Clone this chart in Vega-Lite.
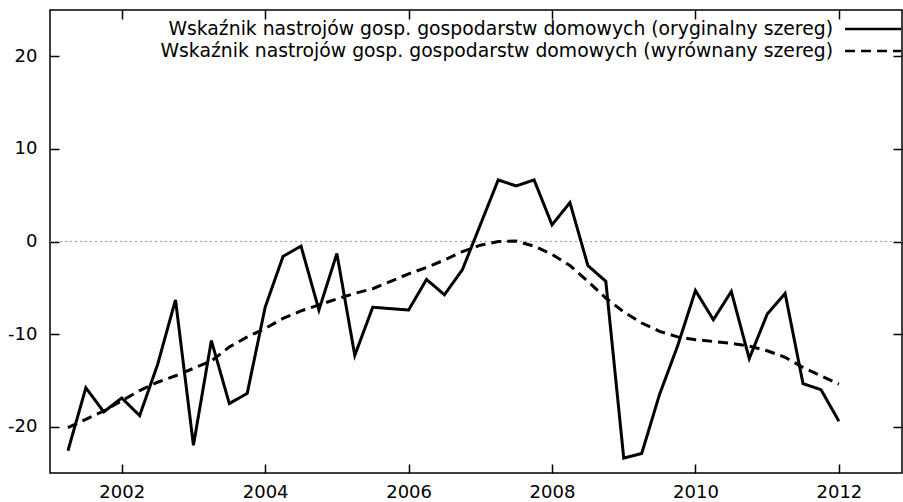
{
  "$schema": "https://vega.github.io/schema/vega-lite/v6.json",
  "width": 852,
  "height": 463,
  "autosize": {"type": "none"},
  "padding": {"left": 50, "top": 10, "right": 1, "bottom": 29},
  "background": "white",
  "config": {
    "view": {"stroke": "black", "strokeWidth": 1.5},
    "axis": {
      "domain": false,
      "grid": false,
      "tickColor": "black",
      "tickWidth": 1.5,
      "tickSize": -9,
      "labelFont": "DejaVu Sans",
      "labelFontSize": 18,
      "labelColor": "black",
      "title": null
    },
    "legend": {
      "labelFont": "DejaVu Sans",
      "labelFontSize": 18.8,
      "labelColor": "black",
      "labelLimit": 2000
    }
  },
  "data": {
    "values": [
      {"t": 2001.25, "v": -22.6, "s": "orig"},
      {"t": 2001.5, "v": -15.8, "s": "orig"},
      {"t": 2001.75, "v": -18.4, "s": "orig"},
      {"t": 2002.0, "v": -16.9, "s": "orig"},
      {"t": 2002.25, "v": -18.8, "s": "orig"},
      {"t": 2002.5, "v": -13.3, "s": "orig"},
      {"t": 2002.75, "v": -6.3, "s": "orig"},
      {"t": 2003.0, "v": -22.0, "s": "orig"},
      {"t": 2003.25, "v": -10.7, "s": "orig"},
      {"t": 2003.5, "v": -17.5, "s": "orig"},
      {"t": 2003.75, "v": -16.4, "s": "orig"},
      {"t": 2004.0, "v": -7.1, "s": "orig"},
      {"t": 2004.25, "v": -1.6, "s": "orig"},
      {"t": 2004.5, "v": -0.5, "s": "orig"},
      {"t": 2004.75, "v": -7.4, "s": "orig"},
      {"t": 2005.0, "v": -1.3, "s": "orig"},
      {"t": 2005.25, "v": -12.3, "s": "orig"},
      {"t": 2005.5, "v": -7.1, "s": "orig"},
      {"t": 2005.75, "v": -7.25, "s": "orig"},
      {"t": 2006.0, "v": -7.4, "s": "orig"},
      {"t": 2006.25, "v": -4.1, "s": "orig"},
      {"t": 2006.5, "v": -5.75, "s": "orig"},
      {"t": 2006.75, "v": -3.05, "s": "orig"},
      {"t": 2007.0, "v": 1.8, "s": "orig"},
      {"t": 2007.25, "v": 6.65, "s": "orig"},
      {"t": 2007.5, "v": 6.0, "s": "orig"},
      {"t": 2007.75, "v": 6.65, "s": "orig"},
      {"t": 2008.0, "v": 1.8, "s": "orig"},
      {"t": 2008.25, "v": 4.2, "s": "orig"},
      {"t": 2008.5, "v": -2.6, "s": "orig"},
      {"t": 2008.75, "v": -4.3, "s": "orig"},
      {"t": 2009.0, "v": -23.4, "s": "orig"},
      {"t": 2009.25, "v": -22.9, "s": "orig"},
      {"t": 2009.5, "v": -16.5, "s": "orig"},
      {"t": 2009.75, "v": -11.3, "s": "orig"},
      {"t": 2010.0, "v": -5.3, "s": "orig"},
      {"t": 2010.25, "v": -8.45, "s": "orig"},
      {"t": 2010.5, "v": -5.4, "s": "orig"},
      {"t": 2010.75, "v": -12.65, "s": "orig"},
      {"t": 2011.0, "v": -7.85, "s": "orig"},
      {"t": 2011.25, "v": -5.6, "s": "orig"},
      {"t": 2011.5, "v": -15.35, "s": "orig"},
      {"t": 2011.75, "v": -16.0, "s": "orig"},
      {"t": 2012.0, "v": -19.4, "s": "orig"},
      {"t": 2001.25, "v": -20.1, "s": "smooth"},
      {"t": 2001.5, "v": -19.2, "s": "smooth"},
      {"t": 2001.75, "v": -18.3, "s": "smooth"},
      {"t": 2002.0, "v": -17.2, "s": "smooth"},
      {"t": 2002.25, "v": -16.1, "s": "smooth"},
      {"t": 2002.5, "v": -15.2, "s": "smooth"},
      {"t": 2002.75, "v": -14.5, "s": "smooth"},
      {"t": 2003.0, "v": -13.7, "s": "smooth"},
      {"t": 2003.25, "v": -12.9, "s": "smooth"},
      {"t": 2003.5, "v": -11.4, "s": "smooth"},
      {"t": 2003.75, "v": -10.3, "s": "smooth"},
      {"t": 2004.0, "v": -9.4, "s": "smooth"},
      {"t": 2004.25, "v": -8.3, "s": "smooth"},
      {"t": 2004.5, "v": -7.5, "s": "smooth"},
      {"t": 2004.75, "v": -6.85, "s": "smooth"},
      {"t": 2005.0, "v": -6.2, "s": "smooth"},
      {"t": 2005.25, "v": -5.6, "s": "smooth"},
      {"t": 2005.5, "v": -5.1, "s": "smooth"},
      {"t": 2005.75, "v": -4.3, "s": "smooth"},
      {"t": 2006.0, "v": -3.5, "s": "smooth"},
      {"t": 2006.25, "v": -2.8, "s": "smooth"},
      {"t": 2006.5, "v": -2.0, "s": "smooth"},
      {"t": 2006.75, "v": -1.1, "s": "smooth"},
      {"t": 2007.0, "v": -0.4, "s": "smooth"},
      {"t": 2007.25, "v": 0.0, "s": "smooth"},
      {"t": 2007.5, "v": 0.05, "s": "smooth"},
      {"t": 2007.75, "v": -0.5, "s": "smooth"},
      {"t": 2008.0, "v": -1.4, "s": "smooth"},
      {"t": 2008.25, "v": -2.6, "s": "smooth"},
      {"t": 2008.5, "v": -4.3, "s": "smooth"},
      {"t": 2008.75, "v": -6.1, "s": "smooth"},
      {"t": 2009.0, "v": -7.6, "s": "smooth"},
      {"t": 2009.25, "v": -8.8, "s": "smooth"},
      {"t": 2009.5, "v": -9.7, "s": "smooth"},
      {"t": 2009.75, "v": -10.3, "s": "smooth"},
      {"t": 2010.0, "v": -10.6, "s": "smooth"},
      {"t": 2010.25, "v": -10.8, "s": "smooth"},
      {"t": 2010.5, "v": -11.0, "s": "smooth"},
      {"t": 2010.75, "v": -11.3, "s": "smooth"},
      {"t": 2011.0, "v": -11.8, "s": "smooth"},
      {"t": 2011.25, "v": -12.5, "s": "smooth"},
      {"t": 2011.5, "v": -13.6, "s": "smooth"},
      {"t": 2011.75, "v": -14.5, "s": "smooth"},
      {"t": 2012.0, "v": -15.4, "s": "smooth"}
    ]
  },
  "resolve": {"axis": {"x": "independent", "y": "independent"}},
  "layer": [
    {
      "mark": {"type": "rule", "color": "#9a9a9a", "strokeWidth": 1, "strokeDash": [1.5, 3.5]},
      "encoding": {
        "y": {"datum": 0, "type": "quantitative", "scale": {"domain": [-25, 25], "nice": false, "zero": false}, "axis": null}
      }
    },
    {
      "mark": {"type": "line", "color": "black", "strokeWidth": 3, "strokeJoin": "miter"},
      "encoding": {
        "x": {"field": "t", "type": "quantitative", "scale": {"domain": [2001, 2012.88], "nice": false, "zero": false},
              "axis": {"orient": "bottom", "values": [2002, 2004, 2006, 2008, 2010, 2012], "format": "d", "labelPadding": 19}},
        "y": {"field": "v", "type": "quantitative", "scale": {"domain": [-25, 25], "nice": false, "zero": false},
              "axis": {"orient": "left", "values": [-20, -10, 0, 10, 20], "labelPadding": 22, "labelExpr": "'' + datum.value"}},
        "detail": {"field": "s"},
        "strokeDash": {
          "field": "s", "type": "nominal",
          "scale": {"domain": ["orig", "smooth"], "range": [[1, 0], [10, 6]]},
          "legend": {
            "title": null,
            "orient": "none",
            "legendX": 811.5,
            "legendY": 7.5,
            "symbolType": "M-2.8,0H2.8",
            "symbolSize": 400,
            "symbolStrokeWidth": 2.6,
            "symbolStrokeColor": "black",
            "labelAlign": "right",
            "labelOffset": -51.5,
            "rowPadding": -1.5,
            "labelExpr": "datum.value == 'orig' ? 'Wskaźnik nastrojów gosp. gospodarstw domowych (oryginalny szereg)' : 'Wskaźnik nastrojów gosp. gospodarstw domowych (wyrównany szereg)'"
          }
        }
      }
    },
    {
      "mark": {"type": "line", "strokeOpacity": 0},
      "encoding": {
        "x": {"field": "t", "type": "quantitative", "scale": {"domain": [2001, 2012.88], "nice": false, "zero": false},
              "axis": {"orient": "top", "values": [2002, 2004, 2006, 2008, 2010, 2012], "labels": false}},
        "y": {"field": "v", "type": "quantitative", "scale": {"domain": [-25, 25], "nice": false, "zero": false},
              "axis": {"orient": "right", "values": [-20, -10, 0, 10, 20], "labels": false}},
        "detail": {"field": "s"}
      }
    }
  ]
}
